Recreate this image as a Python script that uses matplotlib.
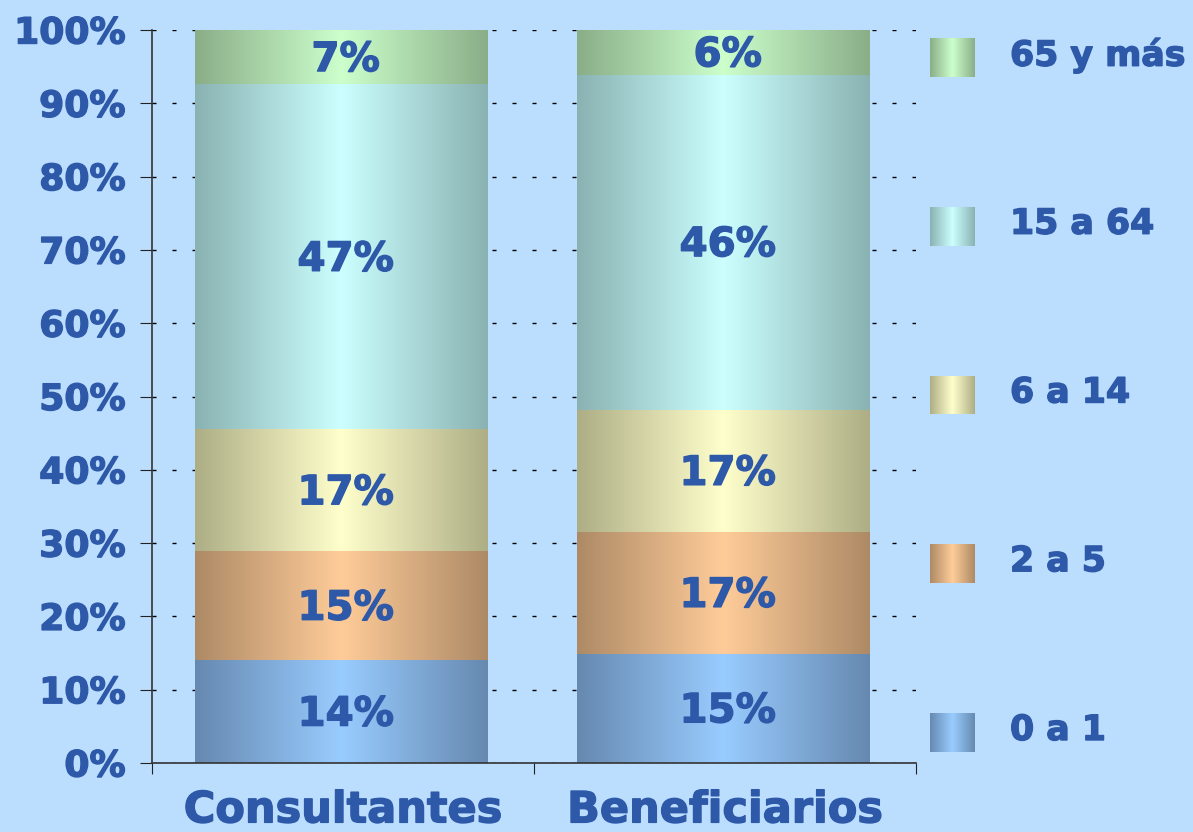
#!/usr/bin/env python3

# Stacked 100% bars: age groups of consultants vs beneficiaries.

import numpy as np
from matplotlib import pyplot as plt
from matplotlib import patheffects as pe
from matplotlib.colors import LinearSegmentedColormap
from matplotlib.ticker import FuncFormatter

groups = ["Consultantes", "Beneficiarios"]
ages = ["0 a 1", "2 a 5", "6 a 14", "15 a 64", "65 y más"]
consultantes = [14.0, 14.9, 16.6, 47.1, 7.4]
beneficiarios = [14.9, 16.6, 16.7, 45.7, 6.1]
labels_c = ["14%", "15%", "17%", "47%", "7%"]
labels_b = ["15%", "17%", "17%", "46%", "6%"]

edge_colors = ["#6689B0", "#AD8A66", "#AEAE86", "#8AB2B2", "#8AAE88"]
center_colors = ["#99CCFF", "#FFCC99", "#FFFFCC", "#CCFFFF", "#CCFFCC"]

bg = "#BBDEFF"
txt = "#2E59A9"
heavy = [pe.withStroke(linewidth=1.0, foreground=txt)]

cmaps = [LinearSegmentedColormap.from_list("g%d" % i, [e, c, e])
         for i, (e, c) in enumerate(zip(edge_colors, center_colors))]
grad = np.linspace(0, 1, 256).reshape(1, -1)

fig = plt.figure(figsize=(11.93, 8.32), dpi=100, facecolor=bg)
ax = fig.add_axes([152 / 1193, 69 / 832, 764 / 1193, 733 / 832])
ax.set_facecolor(bg)

width = 0.767
for gi, (vals, labs) in enumerate([(consultantes, labels_c), (beneficiarios, labels_b)]):
    x = gi - 0.005
    bottom = 0.0
    for k, v in enumerate(vals):
        ax.imshow(grad, cmap=cmaps[k], aspect="auto", interpolation="bilinear",
                  extent=(x - width / 2, x + width / 2, bottom, bottom + v), zorder=2)
        ax.text(x + 0.012, bottom + v / 2 - 0.4, labs[k], ha="center", va="center",
                fontsize=29, fontweight="bold", color=txt, zorder=3,
                path_effects=heavy)
        bottom += v

ax.set_xlim(-0.5, 1.5)
ax.set_ylim(0, 100)
ax.set_yticks(np.arange(0, 101, 10))
ax.yaxis.set_major_formatter(FuncFormatter(lambda y, p: "%d%%" % y))
ax.set_xticks([-0.5, 0.5, 1.5])
ax.set_xticklabels([])
ax.set_xticks([0, 1], minor=True)
ax.set_xticklabels(groups, minor=True)
ax.tick_params(axis="x", which="minor", length=0, pad=19, labelsize=31,
               labelcolor=txt)
ax.tick_params(axis="x", which="major", direction="out", length=8, color="#222222")
ax.tick_params(axis="y", direction="out", length=9, pad=10, labelsize=26,
               labelcolor=txt, color="#222222")
for t in ax.get_xticklabels(minor=True) + ax.get_yticklabels():
    t.set_fontweight("bold")
    t.set_path_effects(heavy)

ax.set_axisbelow(True)
ax.yaxis.grid(True, color="black", linewidth=1.0, linestyle=(0, (2.9, 11.5)))
for s in ["top", "right"]:
    ax.spines[s].set_visible(False)
for s in ["left", "bottom"]:
    ax.spines[s].set_color("#333333")
    ax.spines[s].set_linewidth(1.2)

# legend, top to bottom
for k in range(len(ages)):
    yc = 733 - 168.75 * k
    lax = fig.add_axes([930 / 1193, (832 - yc - 19) / 832, 45 / 1193, 39 / 832])
    lax.imshow(grad, cmap=cmaps[k], aspect="auto", interpolation="bilinear")
    lax.axis("off")
    fig.text(1010 / 1193, (832 - yc + 3) / 832, ages[k], ha="left", va="center",
             fontsize=25, fontweight="bold", color=txt, path_effects=heavy)

plt.savefig("out.png", facecolor=bg)
